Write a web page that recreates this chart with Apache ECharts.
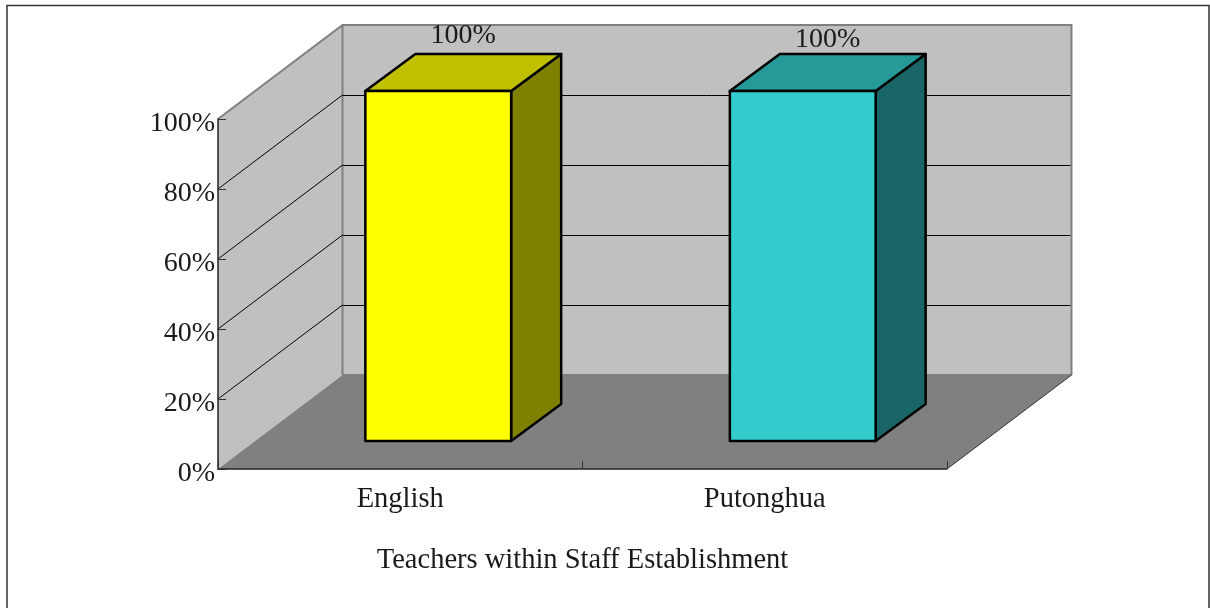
<!DOCTYPE html>
<html>
<head>
<meta charset="utf-8">
<style>html,body{margin:0;padding:0;background:#fff}#c{width:1210px;height:608px}</style>
<script src="https://cdn.jsdelivr.net/npm/echarts@6/dist/echarts.min.js"></script>
</head>
<body>
<div id="c"></div>
<script>
const categories = ['English', 'Putonghua'];
const values = [100, 100];
const faceColors = ['#ffff00', '#33cccc'];
const topColors = ['#c0c000', '#269999'];
const sideColors = ['#808000', '#1a6666'];
const yTicks = [20, 40, 60, 80];
const axisTitle = 'Teachers within Staff Establishment';

const FONT = '"Liberation Serif", serif';
const WALL = [124.5, -94];
const FRONT = [38, -28];
const BACK = [88, -65];

function wallItem(params, api) {
  const cs = params.coordSys;
  const l = cs.x, r = cs.x + cs.width, b = cs.y + cs.height, t = cs.y;
  const [dx, dy] = WALL;
  const grey = { stroke: '#808080', lineWidth: 2, fill: 'none' };
  return {
    type: 'group',
    children: [
      { type: 'polygon', shape: { points: [[l, b], [l + dx, b + dy], [l + dx, t + dy], [l, t]] }, style: { fill: '#c0c0c0' } },
      { type: 'rect', shape: { x: l + dx, y: t + dy, width: r - l, height: b - t }, style: { fill: '#c0c0c0' } },
      { type: 'polygon', shape: { points: [[l, b], [r, b], [r + dx, b + dy], [l + dx, b + dy]] }, style: { fill: '#808080' } },
      { type: 'polyline', shape: { points: [[l, t], [l + dx, t + dy], [r + dx, t + dy], [r + dx, b + dy]] }, style: grey },
      { type: 'line', shape: { x1: l + dx, y1: t + dy, x2: l + dx, y2: b + dy }, style: grey },
      { type: 'line', shape: { x1: l + dx, y1: b + dy, x2: r + dx, y2: b + dy }, style: grey },
      { type: 'line', shape: { x1: r, y1: b, x2: r + dx, y2: b + dy }, style: { stroke: '#333', lineWidth: 1 } }
    ]
  };
}

function gridItem(params, api) {
  const cs = params.coordSys;
  const l = cs.x, r = cs.x + cs.width;
  const y = Math.round(api.coord([0, api.value(0)])[1]);
  const [dx, dy] = WALL;
  const ink = { stroke: '#000', lineWidth: 1 };
  return {
    type: 'group',
    children: [
      { type: 'line', shape: { x1: l, y1: y, x2: l + dx, y2: y + dy }, style: ink },
      { type: 'line', shape: { x1: l + dx, y1: y + dy + 0.5, x2: r + dx - 1, y2: y + dy + 0.5 }, style: ink }
    ]
  };
}

function barItem(params, api) {
  const i = api.value(0);
  const top = api.coord([i, api.value(1)]);
  const base = api.coord([i, 0]);
  const half = api.size([1, 0])[0] * 0.2;
  const x0 = top[0] - half + FRONT[0], x1 = top[0] + half + FRONT[0];
  const yt = top[1] + FRONT[1], yb = base[1] + FRONT[1];
  const ox = BACK[0] - FRONT[0], oy = BACK[1] - FRONT[1];
  const edge = { stroke: '#000', lineWidth: 2.5, lineJoin: 'round' };
  return {
    type: 'group',
    children: [
      { type: 'polygon', shape: { points: [[x1, yt], [x1 + ox, yt + oy], [x1 + ox, yb + oy], [x1, yb]] }, style: { fill: sideColors[i], ...edge } },
      { type: 'polygon', shape: { points: [[x0, yt], [x0 + ox, yt + oy], [x1 + ox, yt + oy], [x1, yt]] }, style: { fill: topColors[i], ...edge } },
      { type: 'rect', shape: { x: x0, y: yt, width: x1 - x0, height: yb - yt }, style: { fill: faceColors[i], ...edge } },
      { type: 'text', style: { x: (x0 + x1) / 2 + ox / 2, y: yt + oy + (i === 0 ? -18 : -14), text: values[i] + '%', align: 'center', verticalAlign: 'middle', font: '28px ' + FONT, fill: '#1a1a1a' } }
    ]
  };
}

const chart = echarts.init(document.getElementById('c'), null, { renderer: 'canvas' });
chart.setOption({
  animation: false,
  backgroundColor: '#fff',
  grid: { left: 218, right: 263, top: 119, bottom: 139, containLabel: false },
  graphic: [{ type: 'rect', silent: true, z: -1, shape: { x: 7, y: 5.5, width: 1202, height: 620 }, style: { fill: 'none', stroke: '#333', lineWidth: 1.5 } }],
  xAxis: {
    type: 'category',
    data: categories,
    z: 5,
    name: axisTitle,
    nameLocation: 'middle',
    nameGap: 77,
    nameTextStyle: { fontFamily: FONT, fontSize: 28.5, color: '#1a1a1a' },
    axisLine: { lineStyle: { color: '#222', width: 1.5 } },
    axisTick: { show: true, inside: true, length: 8, alignWithLabel: false, lineStyle: { color: '#333' } },
    axisLabel: { fontFamily: FONT, fontSize: 28.5, color: '#1a1a1a', margin: 16 }
  },
  yAxis: {
    type: 'value',
    min: 0,
    max: 100,
    interval: 20,
    z: 5,
    axisLine: { show: true, lineStyle: { color: '#222', width: 1.5 } },
    axisTick: { show: true, inside: true, length: 8, lineStyle: { color: '#333' } },
    splitLine: { show: false },
    axisLabel: { formatter: '{value}%', fontFamily: FONT, fontSize: 28, color: '#1a1a1a', margin: 3, verticalAlign: 'top', lineHeight: 10 }
  },
  series: [
    { type: 'custom', name: 'walls', silent: true, clip: false, z: 1, data: [[0]], renderItem: wallItem },
    { type: 'custom', name: 'grid', silent: true, clip: false, z: 2, data: yTicks.map(v => [v]), renderItem: gridItem, encode: { y: 0 } },
    { type: 'custom', name: 'Teachers', clip: false, z: 3, data: values.map((v, i) => [i, v]), renderItem: barItem, encode: { x: 0, y: 1 } }
  ]
});
</script>
</body>
</html>
